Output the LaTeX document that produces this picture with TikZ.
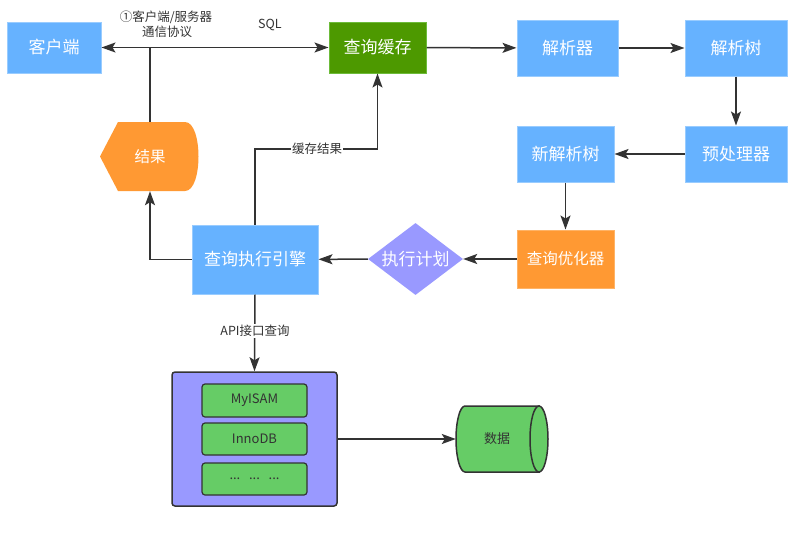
\documentclass[tikz,border=0pt]{standalone}
\usepackage{fontspec}
\setmainfont{Noto Sans CJK SC}
\usetikzlibrary{arrows.meta,shapes.geometric}
\definecolor{bluef}{HTML}{66B2FF}
\definecolor{blued}{HTML}{99CCFF}
\definecolor{greenf}{HTML}{4D9900}
\definecolor{greend}{HTML}{6DBB3A}
\definecolor{orangef}{HTML}{FF9933}
\definecolor{oranged}{HTML}{FFB366}
\definecolor{purplef}{HTML}{9999FF}
\definecolor{lgreen}{HTML}{66CC66}
\definecolor{ink}{HTML}{333333}
\begin{document}
\begin{tikzpicture}[x=1pt,y=-1pt,
  box/.style={draw=blued,line width=1pt,fill=bluef,text=white,font=\fontsize{17}{20}\selectfont,inner sep=0pt},
  arr/.style={draw=ink,line width=1.5pt,-{Stealth[length=14pt,width=10pt,inset=3pt]}},
  ln/.style={draw=ink,line width=1.5pt},
  lbl/.style={text=ink,font=\fontsize{12.5}{15}\selectfont,inner sep=1pt},
  inner/.style={draw=ink,line width=1.2pt,fill=lgreen,rounded corners=3pt,minimum width=105pt,minimum height=32pt,text=ink,font=\fontsize{13}{15}\selectfont,inner sep=0pt}]
\useasboundingbox (0,0) rectangle (796,542);
% nodes
\node[box,minimum width=94pt,minimum height=51pt] (client) at (54,47.5) {客户端};
\node[box,draw=greend,fill=greenf,minimum width=97pt,minimum height=51pt] (cache) at (377.5,47.5) {查询缓存};
\node[box,minimum width=101pt,minimum height=56pt] (parser) at (567.5,48) {解析器};
\node[box,minimum width=102pt,minimum height=56pt] (ptree) at (736,48) {解析树};
\node[box,minimum width=102pt,minimum height=56pt] (pre) at (736,154) {预处理器};
\node[box,minimum width=97pt,minimum height=56pt] (newtree) at (565.5,154) {新解析树};
\node[box,draw=oranged,fill=orangef,minimum width=97pt,minimum height=58pt,font=\fontsize{15.5}{18}\selectfont] (opt) at (565.5,259) {查询优化器};
\node[diamond,fill=purplef,text=white,minimum width=95pt,minimum height=72pt,inner sep=0pt,font=\fontsize{17}{20}\selectfont,aspect=1.32] (plan) at (415.5,259) {执行计划};
\node[box,minimum width=126pt,minimum height=69pt] (engine) at (255,259.5) {查询执行引擎};
% result display shape
\fill[orangef] (118,122) -- (185,122) .. controls (203,122) and (203,191) .. (185,191) -- (118,191) -- (100,156.5) -- cycle;
\node[minimum width=99pt,minimum height=69pt,text=white,font=\fontsize{15.5}{18}\selectfont,inner sep=0pt] (result) at (150,156.5) {结果};
% storage
\node[draw=ink,line width=1.5pt,fill=purplef,rounded corners=3pt,minimum width=165pt,minimum height=134pt] (storage) at (254.5,439) {};
\node[inner,minimum height=33pt] (myisam) at (254.5,400.5) {MyISAM};
\node[inner] (innodb) at (254.5,439) {InnoDB};
\node[inner] (dots) at (254.5,479) {...\ \ \ ...\ \ \ ...};
% cylinder
\filldraw[draw=ink,line width=1.5pt,fill=lgreen] (539,406) -- (465,406) .. controls (460,406) and (456,421) .. (456,439) .. controls (456,457) and (460,472) .. (465,472) -- (539,472) -- cycle;
\filldraw[draw=ink,line width=1.5pt,fill=lgreen] (539,439) ellipse [x radius=9pt,y radius=33pt];
\node[minimum width=92pt,minimum height=66pt,inner sep=0pt,text=ink,font=\fontsize{13}{15}\selectfont] (data) at (502,439) {\hspace*{-10pt}数据};
% connectors
\coordinate (junc) at (150,47.5);
\draw[ln,{Stealth[length=14pt,width=10pt,inset=3pt]}-{Stealth[length=14pt,width=10pt,inset=3pt]}] (client.east) -- (cache.west);
\draw[ln] (result.north) -- (junc);
\draw[arr] (cache) -- (parser);
\draw[arr] (parser) -- (ptree);
\draw[arr] (ptree) -- (pre);
\draw[arr] (pre) -- (newtree);
\draw[arr] (newtree) -- (opt);
\draw[arr] (opt) -- (plan);
\draw[arr] (plan) -- (engine);
\draw[arr] (engine.west) -| (result.south);
\coordinate (cr) at (317,149);
\draw[arr] (engine.north) |- (cr) -| (cache.south);
\node[lbl,fill=white] at (cr) {缓存结果};
\draw[arr] (engine.south) -- (storage.north);
\node[lbl,fill=white] at (255,331) {API接口查询};
\draw[arr] (storage.east) -- (data.west);
% top labels
\node[lbl] at (166,17) {①客户端/服务器};
\node[lbl] at (167,32) {通信协议};
\node[lbl] at (270,25) {SQL};
\end{tikzpicture}
\end{document}
